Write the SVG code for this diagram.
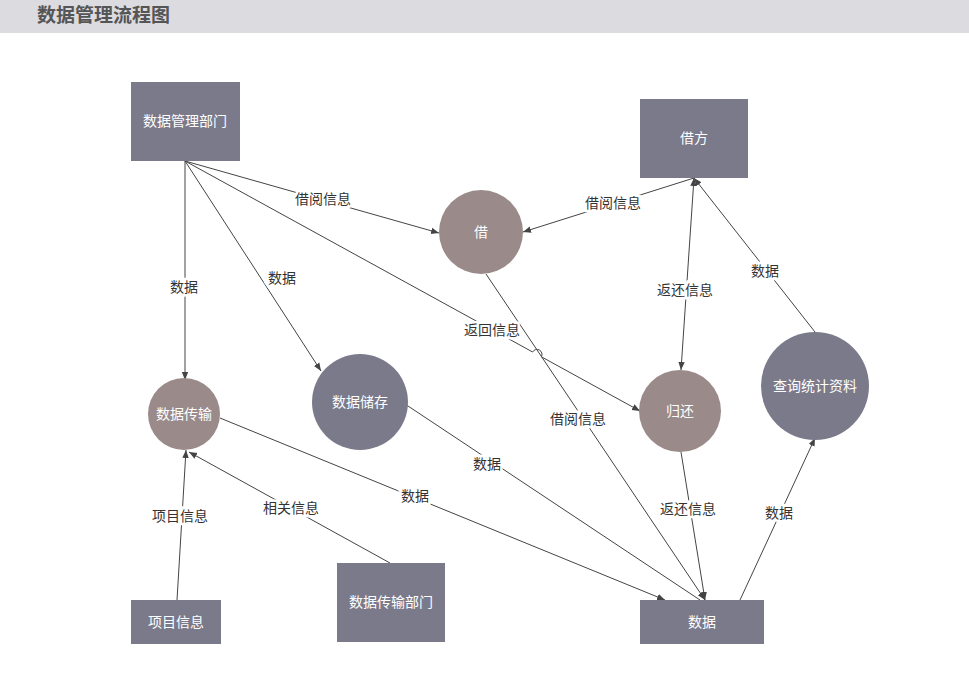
<svg xmlns="http://www.w3.org/2000/svg" width="969" height="691" viewBox="0 0 969 691">
<style>
.r{fill:#7b7a8b}
.cb{fill:#9a8a8a}
.cd{fill:#7b7a8b}
.nt{font-family:"Liberation Sans","Noto Sans CJK SC",sans-serif;font-size:14px;fill:#fff;text-anchor:middle;dominant-baseline:central}
.e{stroke:#444;stroke-width:1;fill:none}
.lb{font-family:"Liberation Sans","Noto Sans CJK SC",sans-serif;font-size:14px;fill:#333;text-anchor:middle;dominant-baseline:central;stroke:#fff;stroke-width:5;paint-order:stroke}
</style>
<defs>
<marker id="a" viewBox="0 0 10 10" refX="10" refY="5" markerWidth="8" markerHeight="8" orient="auto-start-reverse" markerUnits="userSpaceOnUse"><path d="M0,1 L10,5 L0,9 Z" fill="#444"/></marker>
</defs>
<rect width="969" height="691" fill="#fff"/>
<rect width="969" height="33" fill="#dcdbe0"/>
<text x="37" y="15" font-family="Liberation Sans,'Noto Sans CJK SC',sans-serif" font-size="19" font-weight="bold" fill="#555" dominant-baseline="central">数据管理流程图</text>
<g id="connectors">
<path class="e" marker-end="url(#a)" d="M185,161 L185,380"/>
<path class="e" marker-end="url(#a)" d="M185,161 L321,371"/>
<path class="e" marker-end="url(#a)" d="M185,161 L439,233"/>
<path class="e" marker-end="url(#a)" d="M185,161 L532.6,352 A5,5 0 0 1 541.4,356.8 L640,411"/>
<path class="e" marker-end="url(#a)" d="M694,178 L523,232"/>
<path class="e" marker-start="url(#a)" marker-end="url(#a)" d="M694,178 L681,370"/>
<path class="e" marker-end="url(#a)" d="M815,332 L694,178"/>
<path class="e" marker-end="url(#a)" d="M486,274 L705,600"/>
<path class="e" marker-end="url(#a)" d="M681,452 L705,600"/>
<path class="e" marker-end="url(#a)" d="M740,600 L815,438"/>
<path class="e" marker-end="url(#a)" d="M220,418 L665,600"/>
<path class="e" d="M405,404 L700,600"/>
<path class="e" marker-end="url(#a)" d="M177,600 L186,450"/>
<path class="e" marker-end="url(#a)" d="M390,563 L189,452"/>
<text class="lb" x="184" y="287">数据</text>
<text class="lb" x="282" y="278">数据</text>
<text class="lb" x="323" y="199">借阅信息</text>
<text class="lb" x="492" y="330">返回信息</text>
<text class="lb" x="613" y="203">借阅信息</text>
<text class="lb" x="685" y="290">返还信息</text>
<text class="lb" x="765" y="271">数据</text>
<text class="lb" x="578" y="419">借阅信息</text>
<text class="lb" x="688" y="509">返还信息</text>
<text class="lb" x="779" y="513">数据</text>
<text class="lb" x="415" y="496">数据</text>
<text class="lb" x="487" y="464">数据</text>
<text class="lb" x="180" y="516" fill="#000">项目信息</text>
<text class="lb" x="291" y="508">相关信息</text>
</g>
<g id="n1"><rect class="r" x="131" y="82" width="109" height="79"/><text class="nt" x="185" y="121">数据管理部门</text></g>
<g id="n2"><rect class="r" x="640" y="99" width="108" height="79"/><text class="nt" x="694" y="138">借方</text></g>
<g id="n3"><circle class="cb" cx="481" cy="232" r="42"/><text class="nt" x="481" y="232">借</text></g>
<g id="n4"><circle class="cb" cx="680" cy="411" r="41"/><text class="nt" x="680" y="411">归还</text></g>
<g id="n5"><circle class="cd" cx="815" cy="386" r="54"/><text class="nt" x="815" y="386">查询统计资料</text></g>
<g id="n6"><circle class="cb" cx="184" cy="414" r="36"/><text class="nt" x="184" y="414">数据传输</text></g>
<g id="n7"><circle class="cd" cx="360" cy="402" r="48"/><text class="nt" x="360" y="402">数据储存</text></g>
<g id="n8"><rect class="r" x="131" y="600" width="90" height="44"/><text class="nt" x="176" y="622">项目信息</text></g>
<g id="n9"><rect class="r" x="337" y="563" width="108" height="79"/><text class="nt" x="391" y="602">数据传输部门</text></g>
<g id="n10"><rect class="r" x="640" y="600" width="124" height="44"/><text class="nt" x="702" y="622">数据</text></g>
</svg>
